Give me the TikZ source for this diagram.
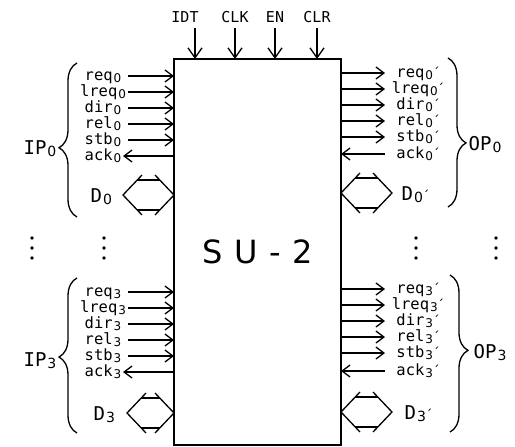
\documentclass[tikz,border=0pt]{standalone}
\usepackage{fontspec}
\setmainfont{DejaVu Sans Mono}
\newfontfamily\subfont{DejaVu Sans}
\usetikzlibrary{arrows.meta,decorations.pathreplacing}
\newcommand{\mysub}[1]{\kern1pt\raisebox{-2.5pt}{\subfont\fontsize{12}{12}\selectfont #1}}
\newcommand{\bigsub}[1]{\kern1pt\raisebox{-2.5pt}{\subfont\fontsize{14}{14}\selectfont #1}}
\newcommand{\myprm}{{\subfont\fontsize{13}{13}\selectfont ´}}
\newcommand{\busshape}[3]{%
  \draw (#1+19,#3-20) -- (#1,#3) -- (#1+19,#3+20);
  \draw (#2-19,#3-20) -- (#2,#3) -- (#2-19,#3+20);
  \draw (#1+14,#3-15) -- (#2-14,#3-15);
  \draw (#1+14,#3+15) -- (#2-14,#3+15);}
\begin{document}
\begin{tikzpicture}[x=1pt,y=-1pt,line width=1.3pt,
  sig/.style={-{Straight Barb[length=8pt,width=12pt]}},
  sigv/.style={-{Straight Barb[length=10pt,width=14pt]}},
  lbl/.style={font=\fontsize{15.5}{15.5}\selectfont,inner sep=0pt,anchor=base},
  toplbl/.style={font=\fontsize{15}{15}\selectfont,inner sep=0pt,anchor=base},
  big/.style={font=\fontsize{19}{19}\selectfont,inner sep=0pt},
  brc/.style={decorate,decoration={brace,amplitude=18pt,aspect=#1}}]
\useasboundingbox (0,0) rectangle (515,447);
\node[draw,minimum width=167pt,minimum height=386pt,anchor=north west,inner sep=0pt,outer sep=0pt,
  font={\subfont\fontsize{32}{32}\selectfont\addfontfeature{LetterSpace=36}}] (su) at (174,59) {SU-2};
% top control inputs
\node[toplbl] (tIDT) at (185,22) {IDT};
\node[toplbl] (tCLK) at (235,22) {CLK};
\node[toplbl] (tEN) at (275,22) {EN};
\node[toplbl] (tCLR) at (317,22) {CLR};
\coordinate (aIDT) at (195,28);
\coordinate (aCLK) at (235,28);
\coordinate (aEN) at (275,28);
\coordinate (aCLR) at (317,28);
\foreach \nm in {IDT,CLK,EN,CLR}{\draw[sigv] (a\nm) -- (a\nm |- su.north);}
% left, port 0
\foreach \yy/\nm in {76/req,92/lreq,108/dir,124/rel,140/stb}{
  \node[lbl] (nA\nm) at (103,\yy+4) {\nm\mysub{0}};
  \coordinate (cA\nm) at (128,\yy);
  \draw[sig] (cA\nm) -- (cA\nm -| su.west);}
\node[lbl] (nAack) at (103,160) {ack\mysub{0}};
\coordinate (cAack) at (123,156);
\draw[sig] (cAack -| su.west) -- (cAack);
% right, port 0
\foreach \yy/\nm in {73/req,89/lreq,105/dir,121/rel,137/stb}{
  \node[lbl] (nB\nm) at (418,\yy+4) {\nm\mysub{0}\myprm};
  \coordinate (cB\nm) at (385,\yy);
  \draw[sig] (cB\nm -| su.east) -- (cB\nm);}
\node[lbl] (nBack) at (418,158) {ack\mysub{0}\myprm};
\coordinate (cBack) at (385,154);
\draw[sig] (cBack) -- (cBack -| su.east);
% left, port 3
\foreach \yy/\nm in {292/req,308/lreq,324/dir,340/rel,356/stb}{
  \node[lbl] (nC\nm) at (103,\yy+4) {\nm\mysub{3}};
  \coordinate (cC\nm) at (128,\yy);
  \draw[sig] (cC\nm) -- (cC\nm -| su.west);}
\node[lbl] (nCack) at (103,376) {ack\mysub{3}};
\coordinate (cCack) at (123,372);
\draw[sig] (cCack -| su.west) -- (cCack);
% right, port 3
\foreach \yy/\nm in {289/req,305/lreq,321/dir,337/rel,353/stb}{
  \node[lbl] (nD\nm) at (418,\yy+4) {\nm\mysub{3}\myprm};
  \coordinate (cD\nm) at (385,\yy);
  \draw[sig] (cD\nm -| su.east) -- (cD\nm);}
\node[lbl] (nDack) at (418,375) {ack\mysub{3}\myprm};
\coordinate (cDack) at (385,371);
\draw[sig] (cDack) -- (cDack -| su.east);
% data buses
\busshape{123}{174}{195}
\busshape{341}{392}{193}
\busshape{127}{174}{413}
\busshape{341}{392}{412}
\node[big,anchor=base west] (D0) at (90,202) {D\bigsub{0}};
\node[big,anchor=base west] (D3) at (93,420) {D\bigsub{3}};
\node[big,anchor=base west] (D0p) at (401,200) {D\bigsub{0}\myprm};
\node[big,anchor=base west] (D3p) at (404,419) {D\bigsub{3}\myprm};
% braces
\draw[brc=0.45] (77,217) -- (77,63);
\draw[brc=0.49] (77,433) -- (77,278);
\draw[brc=0.57] (448,58) -- (448,207);
\draw[brc=0.48] (450,275) -- (450,432);
\node[big,anchor=base east] (IP0) at (57,154) {IP\bigsub{0}};
\node[big,anchor=base east] (IP3) at (57,366) {IP\bigsub{3}};
\node[big,anchor=base west] (OP0) at (468,150) {OP\bigsub{0}};
\node[big,anchor=base west] (OP3) at (473,358) {OP\bigsub{3}};
% ellipsis dots
\foreach \xx in {32,104,416,496}{
  \foreach \yy in {238,248,258}{\fill (\xx,\yy) circle (1.8pt);}}
\end{tikzpicture}
\end{document}
